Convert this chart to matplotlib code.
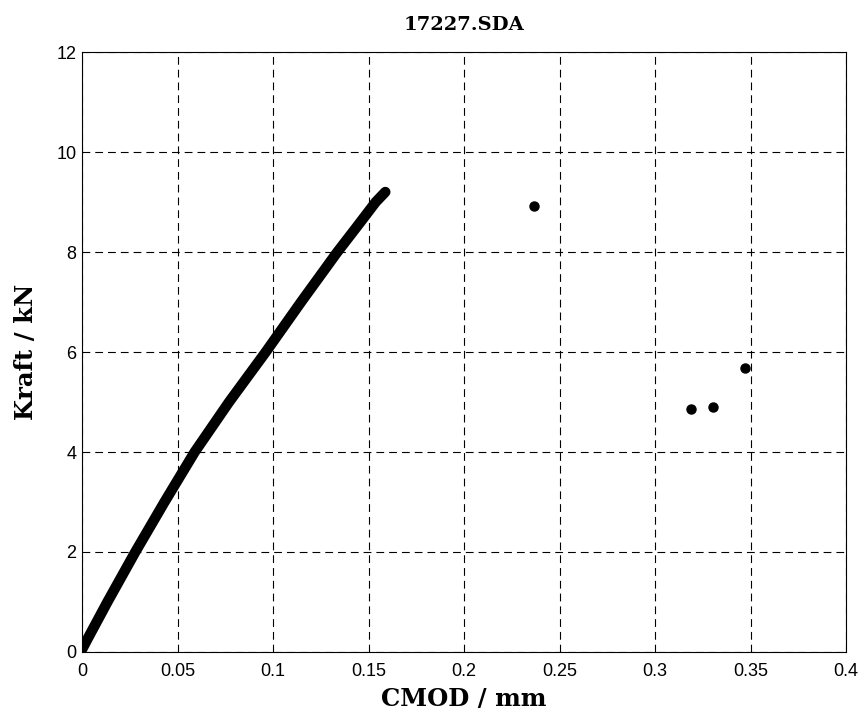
import matplotlib
matplotlib.use("Agg")
import matplotlib.pyplot as plt

# Kraft-CMOD curve
cmod_curve = [0.0, 0.0026, 0.0133, 0.0279, 0.0432, 0.0590, 0.0770, 0.0962,
              0.1147, 0.1337, 0.1438, 0.1538, 0.1588]
kraft_curve = [0.05, 0.24, 1.0, 2.0, 3.0, 4.0, 5.0, 6.0,
               7.0, 8.0, 8.5, 9.0, 9.2]

# isolated points after the peak
cmod_points = [0.2367, 0.3187, 0.3305, 0.3471]
kraft_points = [8.93, 4.87, 4.91, 5.69]

x_ticks = [0, 0.05, 0.1, 0.15, 0.2, 0.25, 0.3, 0.35, 0.4]
x_tick_labels = ["0", "0.05", "0.1", "0.15", "0.2", "0.25", "0.3", "0.35", "0.4"]
y_ticks = [0, 2, 4, 6, 8, 10, 12]

serif = ["DejaVu Serif"]
sans = ["Liberation Sans", "DejaVu Sans"]

fig = plt.figure(figsize=(8.66, 7.22), dpi=100)
ax = fig.add_axes([82 / 866, 1 - 652 / 722, (846 - 82) / 866, (652 - 52) / 722])

ax.plot(cmod_curve, kraft_curve, color="black", linewidth=7.5,
        solid_capstyle="round", solid_joinstyle="round")
ax.plot(cmod_points, kraft_points, "o", color="black", markersize=6.5)

ax.set_xlim(0, 0.4)
ax.set_ylim(0, 12)
ax.set_xticks(x_ticks)
ax.set_xticklabels(x_tick_labels)
ax.set_yticks(y_ticks)

ax.grid(True, color="black", linestyle=(0, (7, 4.5)), linewidth=0.8)
ax.set_axisbelow(True)
for spine in ax.spines.values():
    spine.set_linewidth(0.8)

ax.tick_params(direction="in", length=3, width=0.6)
ax.tick_params(axis="x", pad=8)
ax.tick_params(axis="y", pad=4)
for lbl in ax.get_xticklabels() + ax.get_yticklabels():
    lbl.set_family(sans)
    lbl.set_fontsize(13)

ax.set_title("17227.SDA", family=serif, fontweight="bold", fontsize=14, pad=16)
ax.set_xlabel("CMOD / mm", family=serif, fontweight="bold", fontsize=17.5, labelpad=5)
ax.set_ylabel("Kraft / kN", family=serif, fontweight="bold", fontsize=17.5, labelpad=13)

fig.savefig("out.png", dpi=100)
